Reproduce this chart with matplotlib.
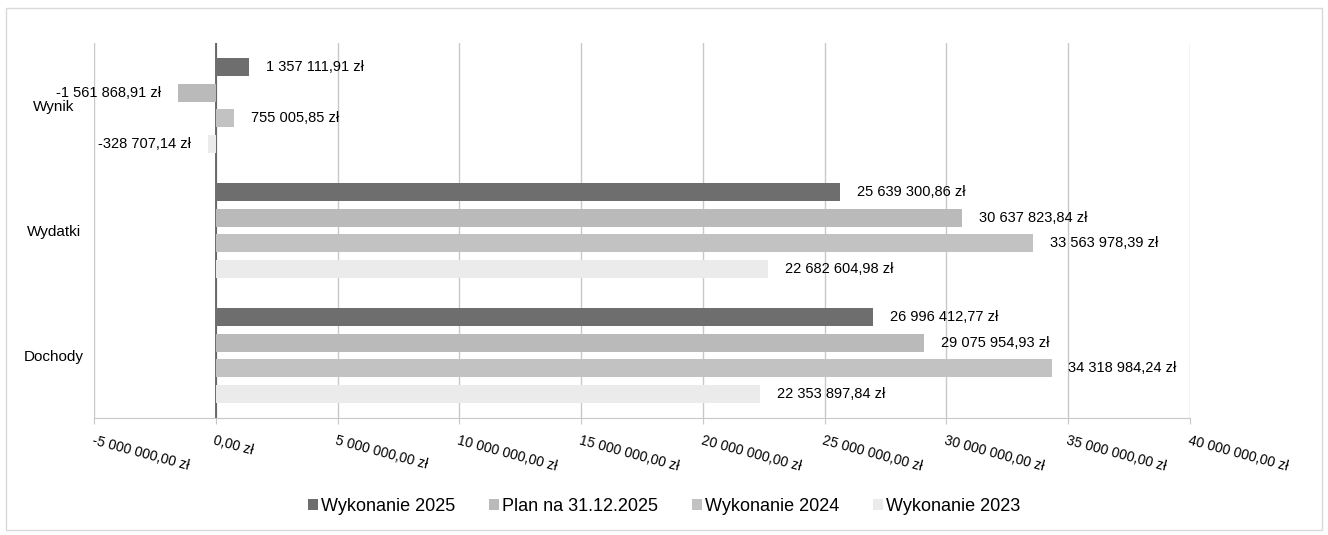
import matplotlib.pyplot as plt
import matplotlib.ticker as ticker
from matplotlib.patches import Rectangle
import numpy as np

plt.rcParams['font.family'] = ['Liberation Sans', 'DejaVu Sans']

categories = ["Dochody", "Wydatki", "Wynik"]
series = ["Wykonanie 2025", "Plan na 31.12.2025", "Wykonanie 2024", "Wykonanie 2023"]
wyk_2025 = [26996412.77, 25639300.86, 1357111.91]
plan_2025 = [29075954.93, 30637823.84, -1561868.91]
wyk_2024 = [34318984.24, 33563978.39, 755005.85]
wyk_2023 = [22353897.84, 22682604.98, -328707.14]
values = [wyk_2025, plan_2025, wyk_2024, wyk_2023]
colors = ["#6e6e6e", "#bababa", "#c2c2c2", "#ebebeb"]


def pl_fmt(v):
    s = f"{abs(v):,.2f}".replace(",", " ").replace(".", ",")
    return ("-" if v < 0 else "") + s + " zł"


fig = plt.figure(figsize=(13.28, 5.35), dpi=100)
ax = fig.add_axes([0.0708, 0.2187, 0.8253, 0.7009])

y = np.arange(len(categories))
offsets = [0.307, 0.102, -0.102, -0.307]
for vals, name, col, off in zip(values, series, colors, offsets):
    bars = ax.barh(y + off, vals, height=0.145, color=col, label=name, zorder=3)
    for b, v in zip(bars, vals):
        ax.annotate(pl_fmt(v), (v, b.get_y() + b.get_height() / 2),
                    xytext=(12 if v >= 0 else -12, 0), textcoords="offset points",
                    ha="left" if v >= 0 else "right", va="center", fontsize=10.5, zorder=4)

ax.set_xlim(-5000000, 40000000)
ax.set_ylim(-0.5, 2.5)
ax.xaxis.set_major_locator(ticker.MultipleLocator(5000000))
ax.xaxis.set_major_formatter(ticker.FuncFormatter(lambda v, p: pl_fmt(v) if v != 0 else "0,00 zł"))
ax.grid(axis="x", color="#c8c8c8", linewidth=1, zorder=0)
ax.axvline(0, color="#555555", linewidth=1.2, zorder=2)

for s in ["top", "right", "left"]:
    ax.spines[s].set_visible(False)
ax.spines["bottom"].set_color("#c8c8c8")

ax.tick_params(axis="x", length=4, color="#c8c8c8", pad=7)
for lbl in ax.get_xticklabels():
    lbl.set_rotation(-15)
    lbl.set_rotation_mode("anchor")
    lbl.set_ha("left")
    lbl.set_va("top")
    lbl.set_fontsize(10)

ax.set_yticks(y)
ax.set_yticklabels(categories, fontsize=11, ha="center")
ax.tick_params(axis="y", length=0, pad=29)

fig.legend(loc="center", bbox_to_anchor=(0.5, 0.054), ncol=4, frameon=False,
           fontsize=13, handlelength=0.55, handleheight=0.55, handletextpad=0.15,
           columnspacing=1.9)

fig.patches.append(Rectangle((0.0045, 0.009), 0.991, 0.976, transform=fig.transFigure,
                             fill=False, edgecolor="#d9d9d9", linewidth=1))

plt.savefig("out.png", dpi=100)
